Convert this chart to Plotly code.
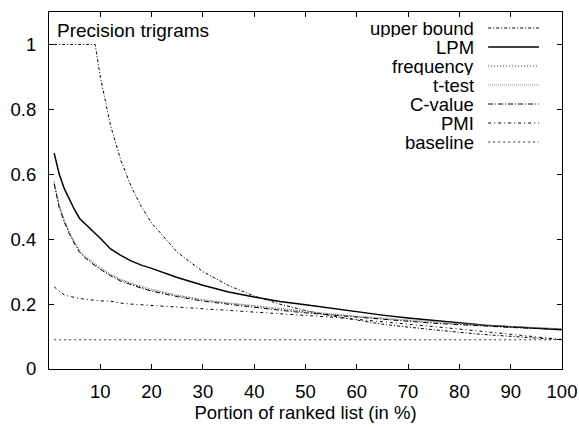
import plotly.graph_objects as go

# ---- data ----
x_pct = [1, 2, 3, 4, 5, 6, 7, 8, 9, 10, 12, 14, 16, 18, 20, 25, 30, 35, 40, 45,
         50, 55, 60, 65, 70, 75, 80, 85, 90, 95, 100]

upper_bound = [1.0, 1.0, 1.0, 1.0, 1.0, 1.0, 1.0, 1.0, 1.0, 0.9, 0.75, 0.643, 0.563, 0.5, 0.45,
               0.36, 0.3, 0.257, 0.225, 0.2, 0.18, 0.164, 0.15, 0.138, 0.129, 0.12, 0.113,
               0.106, 0.1, 0.095, 0.09]
lpm = [0.665, 0.6, 0.555, 0.52, 0.49, 0.463, 0.448, 0.434, 0.418, 0.403, 0.37, 0.35, 0.333,
       0.32, 0.31, 0.282, 0.258, 0.237, 0.222, 0.208, 0.198, 0.187, 0.176, 0.166, 0.157,
       0.149, 0.142, 0.135, 0.13, 0.125, 0.121]
frequency = [0.575, 0.5, 0.455, 0.418, 0.388, 0.362, 0.346, 0.333, 0.321, 0.31, 0.29, 0.274,
             0.262, 0.252, 0.243, 0.226, 0.212, 0.202, 0.193, 0.184, 0.176, 0.168, 0.161,
             0.155, 0.149, 0.143, 0.138, 0.134, 0.13, 0.127, 0.124]
t_test = [0.578, 0.505, 0.46, 0.422, 0.391, 0.365, 0.349, 0.336, 0.324, 0.313, 0.293, 0.277,
          0.265, 0.255, 0.246, 0.228, 0.214, 0.204, 0.195, 0.186, 0.178, 0.17, 0.163,
          0.157, 0.151, 0.145, 0.14, 0.135, 0.131, 0.127, 0.124]
c_value = [0.57, 0.497, 0.452, 0.415, 0.385, 0.359, 0.343, 0.33, 0.318, 0.307, 0.287, 0.271,
           0.259, 0.249, 0.24, 0.223, 0.209, 0.199, 0.19, 0.181, 0.173, 0.166, 0.159,
           0.153, 0.147, 0.141, 0.136, 0.132, 0.128, 0.125, 0.122]
pmi = [0.253, 0.24, 0.228, 0.224, 0.22, 0.217, 0.215, 0.213, 0.211, 0.21, 0.209, 0.203, 0.2,
       0.198, 0.196, 0.19, 0.186, 0.181, 0.176, 0.171, 0.166, 0.16, 0.153, 0.146, 0.138,
       0.131, 0.123, 0.115, 0.107, 0.099, 0.091]
baseline = [0.09] * len(x_pct)

series_names = ["upper bound", "LPM", "frequency", "t-test", "C-value", "PMI", "baseline"]
series_values = [upper_bound, lpm, frequency, t_test, c_value, pmi, baseline]

x_ticks = [10, 20, 30, 40, 50, 60, 70, 80, 90, 100]
y_ticks = [0, 0.2, 0.4, 0.6, 0.8, 1]
y_tick_labels = ["0", "0.2", "0.4", "0.6", "0.8", "1"]

# ---- styles ----
styles = [
    dict(color="black", width=1, dash="3px,2px,1px,2px"),
    dict(color="black", width=1.5, dash="solid"),
    dict(color="#333333", width=1, dash="1px,2px"),
    dict(color="#888888", width=1, dash="1px,1px"),
    dict(color="black", width=1, dash="5px,2px,1px,2px"),
    dict(color="black", width=1, dash="3px,3px,1px,3px"),
    dict(color="#333333", width=1, dash="2px,3px"),
]

FONT = "Liberation Sans, Arial, Helvetica, sans-serif"
FS = 18.5

fig = go.Figure()
for name, vals, st in zip(series_names, series_values, styles):
    fig.add_trace(go.Scatter(x=x_pct, y=vals, mode="lines", name=name,
                             line=st, showlegend=False))

# legend built from annotations + line samples
legend_rows_py = [28, 47, 66, 85, 104, 123, 142]
plot_top, plot_bot = 12, 369
for name, st, py in zip(series_names, styles, legend_rows_py):
    yp = (plot_bot - py) / (plot_bot - plot_top)
    fig.add_annotation(x=0.8305, y=yp, xref="paper", yref="paper", text=name,
                       showarrow=False, xanchor="right", yanchor="middle",
                       height=18, borderpad=0,
                       font=dict(family=FONT, size=FS, color="black"))
    fig.add_shape(type="line", xref="paper", yref="paper", x0=0.856, x1=0.955,
                  y0=yp, y1=yp, line=st)

fig.add_annotation(x=0.014, y=(plot_bot - 30) / (plot_bot - plot_top), xref="paper", yref="paper",
                   text="Precision trigrams", showarrow=False, xanchor="left",
                   yanchor="middle", borderpad=0,
                   font=dict(family=FONT, size=19, color="black"))

fig.update_layout(
    width=579, height=427, autosize=False,
    margin=dict(l=49, r=17, t=12, b=58),
    paper_bgcolor="white", plot_bgcolor="white",
    font=dict(family=FONT, size=FS, color="black"),
    xaxis=dict(range=[0, 100], tickvals=x_ticks, ticks="inside", ticklen=5,
               tickcolor="black", showline=True, linecolor="black", linewidth=1,
               mirror="ticks", showgrid=False, zeroline=False, automargin=False,
               ticklabelstandoff=6,
               title=dict(text="Portion of ranked list (in %)", standoff=0,
                          font=dict(family=FONT, size=FS))),
    yaxis=dict(range=[0, 1.1], tickvals=y_ticks, ticktext=y_tick_labels, ticks="inside",
               ticklen=5, tickcolor="black", showline=True, linecolor="black",
               linewidth=1, mirror="ticks", showgrid=False, zeroline=False,
               automargin=False, ticklabelstandoff=8),
)

fig.write_html("out.html")
